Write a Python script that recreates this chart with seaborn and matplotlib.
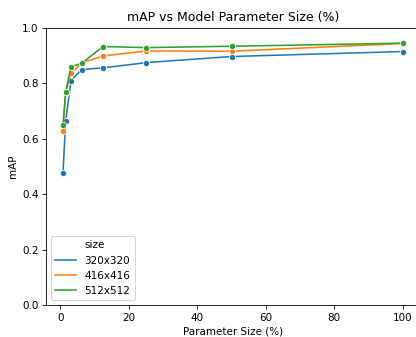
import pandas as pd
import matplotlib
matplotlib.use('Agg')
import matplotlib.pyplot as plt
from matplotlib.lines import Line2D
import seaborn as sns

# Parameter size (%) and mAP per input size
param_size = [0.78, 1.56, 3.125, 6.25, 12.5, 25, 50, 100]
map_320 = [0.478, 0.663, 0.809, 0.849, 0.855, 0.874, 0.896, 0.914]
map_416 = [0.626, 0.765, 0.836, 0.873, 0.898, 0.916, 0.915, 0.943]
map_512 = [0.650, 0.770, 0.859, 0.872, 0.932, 0.928, 0.933, 0.944]
sizes = ['320x320', '416x416', '512x512']

df = pd.DataFrame({
    'param': param_size * 3,
    'mAP': map_320 + map_416 + map_512,
    'size': [s for s in sizes for _ in param_size],
})

fig, ax = plt.subplots(figsize=(416 / 75, 337 / 75), dpi=75)
sns.lineplot(data=df, x='param', y='mAP', hue='size', marker='o', ax=ax)
ax.set_ylim(0, 1.0)
ax.set_xlabel('Parameter Size (%)')
ax.set_ylabel('mAP')
ax.set_title('mAP vs Model Parameter Size (%)')

# old-style legend: lines only, title as first row
colors = sns.color_palette()[:3]
handles = [Line2D([], [], color='none')] + [Line2D([], [], color=c, lw=1.5) for c in colors]
labels = ['size'] + sizes
ax.legend(handles, labels, loc='lower left')
# the source image is cropped just before the right spine
fig.subplots_adjust(left=0.1106, right=1.009, top=0.918, bottom=0.094)
fig.savefig('out.png')
